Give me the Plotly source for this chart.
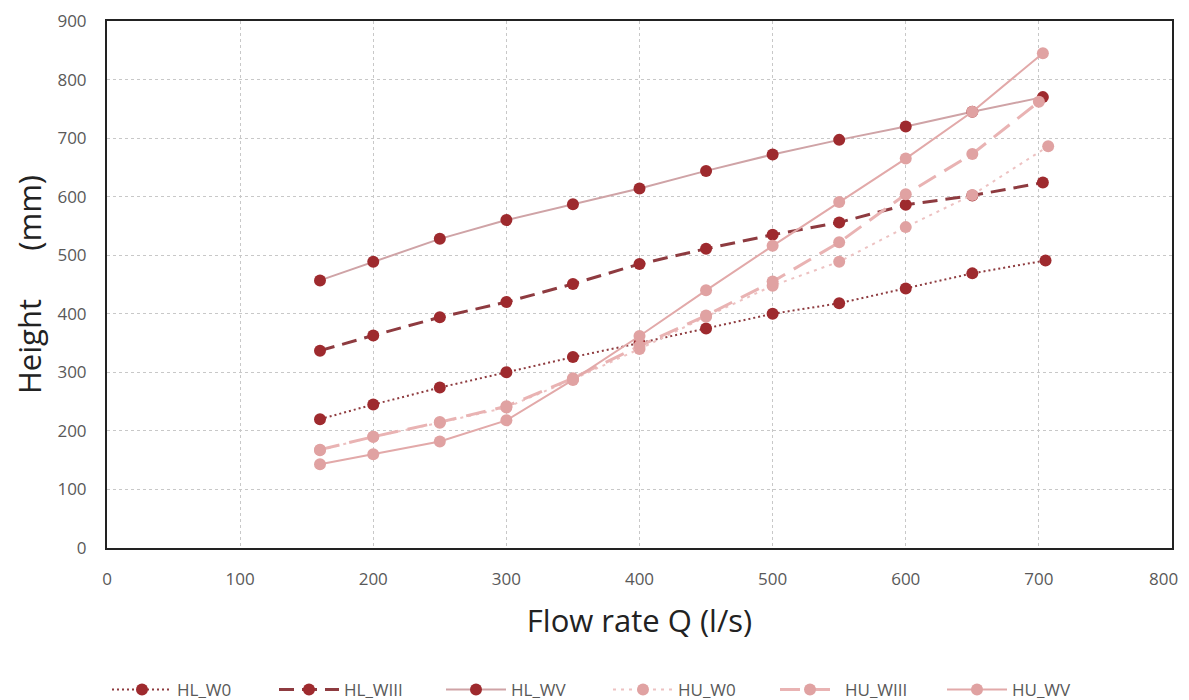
import plotly.graph_objects as go

# Data
x_main = [160, 200, 250, 300, 350, 400, 450, 500, 550, 600, 650]
hl_w0_x = x_main + [705]
hl_w0 = [220, 245, 274, 300, 326, 350, 375, 400, 418, 443, 469, 491]
hl_w3_x = x_main + [703]
hl_w3 = [337, 363, 394, 420, 451, 485, 511, 535, 556, 586, 602, 624]
hl_w5_x = x_main + [703]
hl_w5 = [457, 489, 528, 560, 587, 614, 644, 672, 697, 720, 745, 770]
hu_w0_x = x_main + [707]
hu_w0 = [167, 190, 214, 240, 288, 340, 395, 448, 489, 548, 603, 686]
hu_w3_x = x_main + [700]
hu_w3 = [168, 190, 215, 242, 290, 345, 397, 455, 522, 604, 673, 762]
hu_w5_x = x_main + [703]
hu_w5 = [143, 160, 182, 218, 287, 362, 440, 516, 591, 665, 745, 845]

x_tickvals = [0, 100, 200, 300, 400, 500, 600, 700]
x_ticktext = ["0", "100", "200", "300", "400", "500", "600", "700"]
x_last_tick = 800

series = [
    ("HL_W0", hl_w0_x, hl_w0, "#8E3B3F", "2px,3px", "#9E2A2E", 2),
    ("HL_WIII", hl_w3_x, hl_w3, "#8E3B40", "15px,8px", "#9E2A2E", 3),
    ("HL_WV", hl_w5_x, hl_w5, "#CFA3A6", "solid", "#9E2A2E", 2),
    ("HU_W0", hu_w0_x, hu_w0, "#EDC2C2", "3px,5px", "#E0A2A2", 2),
    ("HU_WIII", hu_w3_x, hu_w3, "#E9B3B3", "20px,10px", "#E0A2A2", 3),
    ("HU_WV", hu_w5_x, hu_w5, "#E2A9A9", "solid", "#E0A2A2", 2),
]

fig = go.Figure()
for name, xs, ys, lc, dash, mc, lw in series:
    fig.add_trace(go.Scatter(
        x=xs, y=ys, name=name, mode="lines+markers",
        line=dict(color=lc, dash=dash, width=lw),
        marker=dict(color=mc, size=12),
    ))

# The page body has an 8px default margin, so the figure is offset by 8px.
font_family = "Open Sans, Noto Sans, sans-serif"
fig.update_layout(
    width=1173, height=700,
    margin=dict(l=99, r=9, t=13, b=160),
    paper_bgcolor="white", plot_bgcolor="white",
    font=dict(family=font_family, color="#595959"),
    showlegend=True,
    legend=dict(orientation="h", x=0.0, xanchor="left", xref="paper",
                y=0.0, yanchor="bottom", yref="container",
                font=dict(size=17, color="#595959"), itemwidth=60,
                entrywidth=92, entrywidthmode="pixels"),
)
# last x tick label sits just inside the plot edge, as in the reference
fig.add_annotation(
    x=x_last_tick, xref="x", y=0, yref="paper", yanchor="middle", xanchor="center",
    xshift=-9, yshift=-30, text=str(x_last_tick), showarrow=False,
    font=dict(size=17, color="#595959", family=font_family),
)
fig.update_xaxes(
    range=[0, 800], tickvals=x_tickvals, ticktext=x_ticktext,
    tickfont=dict(size=17, color="#595959"),
    showgrid=True, gridcolor="#C8C8C8", griddash="dot", gridwidth=1,
    showline=True, linecolor="#222222", linewidth=2, mirror=True,
    zeroline=False, ticks="", ticklabelstandoff=15, automargin=False,
    title=dict(text="Flow rate Q (l/s)", font=dict(size=31, color="#222222"), standoff=21),
)
fig.update_yaxes(
    range=[0, 900], dtick=100, tickfont=dict(size=17, color="#595959"),
    ticklabeloverflow="allow",
    showgrid=True, gridcolor="#C8C8C8", griddash="dot", gridwidth=1,
    showline=True, linecolor="#222222", linewidth=2, mirror=True,
    zeroline=False, ticks="", ticklabelstandoff=15, automargin=False,
    title=dict(text="Height&nbsp;&nbsp;&nbsp;&nbsp;&nbsp;&nbsp;(mm)", font=dict(size=31, color="#222222"), standoff=13),
)

fig.write_html("out.html")
